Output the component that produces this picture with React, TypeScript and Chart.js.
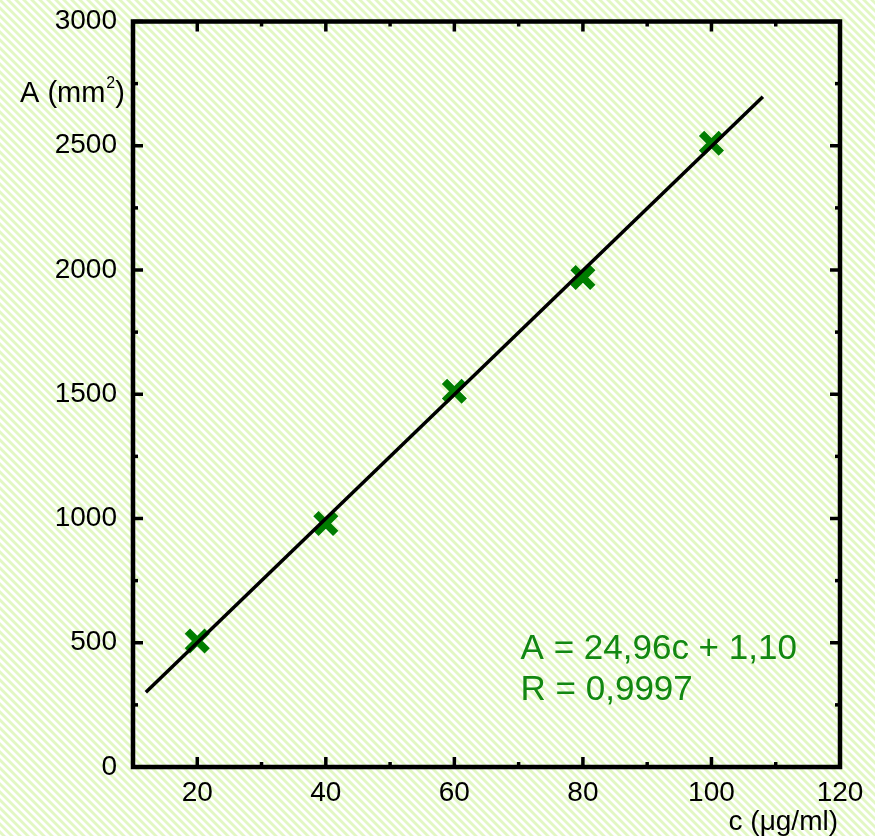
import React, { useEffect, useRef } from 'react';
import { Chart, registerables } from 'chart.js';

Chart.register(...registerables);

// ---- data ----
const concentrations = [20, 40, 60, 80, 100];
const areas = [507, 980, 1512, 1970, 2510];
const fitX = [12, 108];
const fitY = [300.6, 2696.8];
const xMajorStep = 20;
const yMajorStep = 500;
const equationLines = ['A = 24,96c + 1,10', 'R = 0,9997'];
const xTitle = 'c (μg/ml)';
const yTitleParts = ['A (mm', '2', ')'];

const FONT = '"Liberation Sans", Arial, Helvetica, sans-serif';
const GREEN = 'rgb(0,125,0)';
const TEXT_GREEN = 'rgb(18,135,18)';

function makePattern(ctx: CanvasRenderingContext2D) {
  const c = document.createElement('canvas');
  c.width = 8;
  c.height = 8;
  const p = c.getContext('2d')!;
  p.fillStyle = '#ffffff';
  p.fillRect(0, 0, 8, 8);
  p.strokeStyle = 'rgb(226,247,195)';
  p.lineWidth = 2.8;
  for (const x0 of [-8, 0, 8]) {
    p.beginPath();
    p.moveTo(x0 - 1, -1);
    p.lineTo(x0 + 9, 9);
    p.stroke();
  }
  return ctx.createPattern(c, 'repeat');
}

const backgroundPlugin = {
  id: 'stripedBg',
  beforeDraw(chart: any) {
    const { ctx, width, height } = chart;
    ctx.save();
    const pat = makePattern(ctx);
    ctx.fillStyle = pat || '#fff';
    ctx.fillRect(0, 0, width, height);
    ctx.restore();
  },
};

const framePlugin = {
  id: 'frameTicks',
  afterDraw(chart: any) {
    const { ctx, chartArea: a } = chart;
    const x = chart.scales.x;
    const y = chart.scales.y;
    ctx.save();
    ctx.strokeStyle = '#000';
    ctx.lineCap = 'butt';
    const seg = (x1: number, y1: number, x2: number, y2: number) => {
      ctx.beginPath();
      ctx.moveTo(x1, y1);
      ctx.lineTo(x2, y2);
      ctx.stroke();
    };
    ctx.lineWidth = 3.5;
    x.ticks.forEach((t: any) => {
      const px = x.getPixelForValue(t.value);
      const len = t.value % xMajorStep === 0 ? 10 : 5;
      seg(px, a.bottom, px, a.bottom - len);
      seg(px, a.top, px, a.top + len);
    });
    y.ticks.forEach((t: any) => {
      const py = y.getPixelForValue(t.value);
      const len = t.value % yMajorStep === 0 ? 10 : 5;
      seg(a.left, py, a.left + len, py);
      seg(a.right, py, a.right - len, py);
    });
    ctx.lineWidth = 4.5;
    ctx.strokeRect(a.left, a.top, a.right - a.left, a.bottom - a.top);

    // axis titles
    ctx.fillStyle = '#000';
    ctx.textBaseline = 'alphabetic';
    ctx.textAlign = 'right';
    ctx.font = `28px ${FONT}`;
    ctx.fillText(xTitle, a.right - 2, 830);

    ctx.textAlign = 'left';
    ctx.font = `29px ${FONT}`;
    let tx = 20;
    const ty = 102;
    ctx.fillText(yTitleParts[0], tx, ty);
    tx += ctx.measureText(yTitleParts[0]).width;
    ctx.font = `16px ${FONT}`;
    ctx.fillText(yTitleParts[1], tx + 1, ty - 14);
    tx += ctx.measureText(yTitleParts[1]).width + 1;
    ctx.font = `29px ${FONT}`;
    ctx.fillText(yTitleParts[2], tx, ty);

    // equation annotation
    ctx.fillStyle = TEXT_GREEN;
    ctx.font = `35px ${FONT}`;
    const ex = x.getPixelForValue(70.3);
    ctx.fillText(equationLines[0], ex, y.getPixelForValue(435));
    ctx.fillText(equationLines[1], ex, y.getPixelForValue(270));
    ctx.restore();
  },
};

export default function App() {
  const ref = useRef<HTMLCanvasElement | null>(null);
  useEffect(() => {
    if (!ref.current) return;
    const chart = new Chart(ref.current, {
      type: 'scatter',
      data: {
        datasets: [
          {
            label: 'fit',
            data: fitX.map((v, i) => ({ x: v, y: fitY[i] })),
            showLine: true,
            borderColor: '#000',
            borderWidth: 3.5,
            pointRadius: 0,
            fill: false,
          },
          {
            label: 'A',
            data: concentrations.map((v, i) => ({ x: v, y: areas[i] })),
            pointStyle: 'crossRot',
            pointRadius: 14,
            pointHoverRadius: 14,
            pointBorderWidth: 7.5,
            pointHoverBorderWidth: 7.5,
            borderColor: GREEN,
            backgroundColor: GREEN,
            showLine: false,
          },
        ],
      },
      options: {
        responsive: false,
        animation: false,
        devicePixelRatio: 1,
        events: [],
        layout: { padding: { top: 21, right: 35, left: 0, bottom: 0 } },
        plugins: {
          legend: { display: false },
          tooltip: { enabled: false },
          title: { display: false },
        },
        scales: {
          x: {
            type: 'linear',
            min: 10,
            max: 120,
            grid: { display: false, drawTicks: false },
            border: { display: false },
            afterFit: (s: any) => {
              s.height = 69;
              s.paddingLeft = 0;
              s.paddingRight = 0;
            },
            ticks: {
              stepSize: 10,
              autoSkip: false,
              maxRotation: 0,
              padding: 9,
              color: '#000',
              font: { family: FONT, size: 28 },
              callback: (v: any) => (Number(v) % xMajorStep === 0 ? String(v) : ''),
            },
          },
          y: {
            type: 'linear',
            min: 0,
            max: 3000,
            grid: { display: false, drawTicks: false },
            border: { display: false },
            afterFit: (s: any) => {
              s.width = 133;
              s.paddingTop = 0;
              s.paddingBottom = 0;
            },
            ticks: {
              stepSize: 250,
              autoSkip: false,
              padding: 16,
              color: '#000',
              font: { family: FONT, size: 28 },
              callback: (v: any) => (Number(v) % yMajorStep === 0 ? String(v) : ''),
            },
          },
        },
      },
      plugins: [backgroundPlugin, framePlugin],
    });
    return () => chart.destroy();
  }, []);
  return (
    <div style={{ position: 'absolute', left: 0, top: 0 }}>
      <canvas ref={ref} width={875} height={836} style={{ display: 'block', width: 875, height: 836 }} />
    </div>
  );
}
